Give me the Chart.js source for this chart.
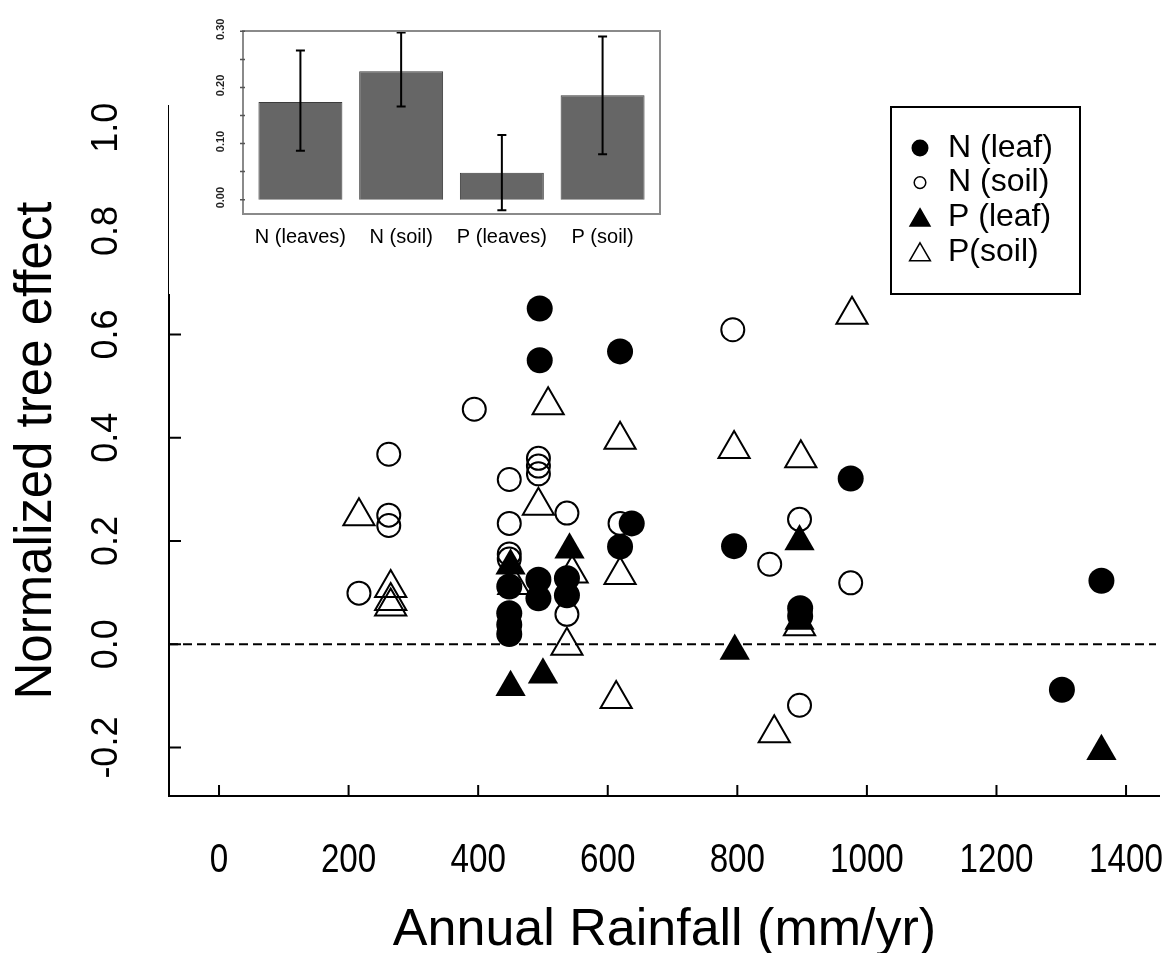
<!DOCTYPE html>
<html>
<head>
<meta charset="utf-8">
<title>Tree effect vs rainfall</title>
<script src="https://cdn.jsdelivr.net/npm/chart.js@4.4.1/dist/chart.umd.min.js"></script>
<style>
  html, body { margin: 0; padding: 0; background: #fff; }
  #wrap { position: relative; width: 1172px; height: 953px; }
  #main { position: absolute; left: 0; top: 0; }
  #inset { position: absolute; left: 169px; top: 0; }
</style>
</head>
<body>
<div id="wrap">
  <canvas id="main" width="1172" height="953"></canvas>
  <canvas id="inset" width="531" height="294"></canvas>
</div>
<script>
const FONT = '"Liberation Sans", Arial, Helvetica, sans-serif';

// rainfall (mm/yr) and normalized tree effect per nutrient / compartment
const nLeafRain   = [495, 495, 619, 637, 619, 448, 448, 448, 448, 493, 493, 537, 537, 795, 897, 897, 975, 1301, 1362];
const nLeafEffect = [0.650, 0.550, 0.567, 0.234, 0.189, 0.112, 0.060, 0.038, 0.020, 0.125, 0.089, 0.128, 0.095, 0.190, 0.070, 0.055, 0.321, -0.088, 0.123];

const nSoilRain   = [216, 262, 262, 262, 394, 448, 448, 448, 448, 493, 493, 493, 537, 537, 619, 793, 850, 896, 896, 975];
const nSoilEffect = [0.099, 0.368, 0.250, 0.230, 0.455, 0.319, 0.234, 0.175, 0.165, 0.360, 0.345, 0.330, 0.254, 0.058, 0.234, 0.609, 0.155, 0.242, -0.118, 0.119];

const pLeafRain   = [450, 450, 500, 541, 796, 896, 896, 1362];
const pLeafEffect = [0.152, -0.083, -0.059, 0.183, -0.013, 0.199, 0.045, -0.207];

const pSoilRain   = [216, 265, 265, 265, 455, 493, 508, 545, 537, 619, 619, 613, 795, 857, 898, 896, 977];
const pSoilEffect = [0.248, 0.109, 0.084, 0.073, 0.115, 0.268, 0.463, 0.137, -0.003, 0.396, 0.134, -0.106, 0.378, -0.172, 0.360, 0.035, 0.638];

const xTicks = [0, 200, 400, 600, 800, 1000, 1200, 1400];
const yTicks = [-0.2, 0, 0.2, 0.4, 0.6, 0.8, 1.0];
const yTickLabels = ['-0.2', '0.0', '0.2', '0.4', '0.6', '0.8', '1.0'];

// inset: mean effect per group with error bars
const insetLabels = ['N (leaves)', 'N (soil)', 'P (leaves)', 'P (soil)'];
const insetMeans  = [0.174, 0.229, 0.048, 0.186];
const insetLow    = [0.087, 0.166, -0.019, 0.081];
const insetHigh   = [0.266, 0.298, 0.115, 0.291];
const insetTicks  = [0, 0.05, 0.1, 0.15, 0.2, 0.25, 0.3];
const insetTickLabels = [[0, '0.00'], [0.1, '0.10'], [0.2, '0.20'], [0.3, '0.30']];

const pts = (xs, ys) => xs.map((x, i) => ({ x, y: ys[i] }));

function drawText(ctx, str, x, y, font, rot, sx) {
  ctx.save();
  ctx.translate(x, y);
  if (rot) ctx.rotate(rot);
  if (sx) ctx.scale(sx, 1);
  ctx.font = font;
  ctx.fillStyle = '#000';
  ctx.textAlign = 'center';
  ctx.textBaseline = 'alphabetic';
  ctx.fillText(str, 0, 0);
  ctx.restore();
}

// axes drawn R-style: L-shaped frame, inward ticks, vertical y labels
const axesPlugin = {
  id: 'rAxes',
  beforeDraw(chart) {
    const ctx = chart.ctx;
    ctx.save();
    ctx.fillStyle = '#fff';
    ctx.fillRect(0, 0, chart.width, chart.height);
    ctx.restore();
  },
  beforeDatasetsDraw(chart) {
    const { ctx, chartArea: a, scales: { x, y } } = chart;
    ctx.save();
    ctx.strokeStyle = '#000';
    ctx.lineWidth = 2;
    ctx.beginPath();
    ctx.moveTo(a.left, a.top);
    ctx.lineTo(a.left, a.bottom);
    ctx.lineTo(a.right, a.bottom);
    ctx.stroke();

    ctx.beginPath();
    yTicks.forEach((v) => {
      const py = y.getPixelForValue(v);
      ctx.moveTo(a.left, py);
      ctx.lineTo(a.left + 12, py);
    });
    xTicks.forEach((v) => {
      const px = x.getPixelForValue(v);
      ctx.moveTo(px, a.bottom);
      ctx.lineTo(px, a.bottom - 11);
    });
    ctx.stroke();

    // reference line at zero
    const y0 = y.getPixelForValue(0);
    ctx.setLineDash([9, 5]);
    ctx.beginPath();
    ctx.moveTo(a.left, y0);
    ctx.lineTo(a.right - 4, y0);
    ctx.stroke();
    ctx.restore();

    yTicks.forEach((v, i) => {
      drawText(ctx, yTickLabels[i], 117, y.getPixelForValue(v), '36px ' + FONT, -Math.PI / 2);
    });
    xTicks.forEach((v) => {
      drawText(ctx, String(v), x.getPixelForValue(v), 872, '40px ' + FONT, 0, 0.83);
    });
    drawText(ctx, 'Annual Rainfall (mm/yr)', (a.left + a.right) / 2, 945, '52px ' + FONT);
    drawText(ctx, 'Normalized tree effect', 51, (a.top + a.bottom) / 2, '51px ' + FONT, -Math.PI / 2);
  },
};

const legendPlugin = {
  id: 'boxLegend',
  afterDraw(chart) {
    const ctx = chart.ctx;
    const box = { l: 891, t: 107, r: 1080, b: 294 };
    ctx.save();
    ctx.strokeStyle = '#000';
    ctx.lineWidth = 2;
    ctx.strokeRect(box.l, box.t, box.r - box.l, box.b - box.t);
    const sizes = [7.5, 5.8, 11.5, 12];
    chart.data.datasets.forEach((ds, i) => {
      const cy = 148 + i * 34.6;
      ctx.fillStyle = ds.pointBackgroundColor;
      ctx.strokeStyle = '#000';
      ctx.lineWidth = ds.pointBorderWidth ? 1.5 : 0;
      Chart.helpers.drawPoint(ctx, {
        pointStyle: ds.pointStyle, radius: sizes[i], rotation: 0, borderWidth: ctx.lineWidth,
      }, 920, ds.pointStyle === 'triangle' ? cy + 3 : cy);
      ctx.font = '32px ' + FONT;
      ctx.fillStyle = '#000';
      ctx.textAlign = 'left';
      ctx.textBaseline = 'middle';
      ctx.fillText(ds.label, 948, cy);
    });
    ctx.restore();
  },
};

new Chart(document.getElementById('main'), {
  type: 'scatter',
  data: {
    datasets: [
      {
        label: 'N (leaf)', data: pts(nLeafRain, nLeafEffect), order: 0,
        pointStyle: 'circle', pointRadius: 13, pointBackgroundColor: '#000',
        pointBorderColor: '#000', pointBorderWidth: 0,
      },
      {
        label: 'N (soil)', data: pts(nSoilRain, nSoilEffect), order: 2,
        pointStyle: 'circle', pointRadius: 11.5, pointBackgroundColor: 'rgba(0,0,0,0)',
        pointBorderColor: '#000', pointBorderWidth: 2,
      },
      {
        label: 'P (leaf)', data: pts(pLeafRain, pLeafEffect), order: 1,
        pointStyle: 'triangle', pointRadius: 17.5, pointBackgroundColor: '#000',
        pointBorderColor: '#000', pointBorderWidth: 0,
      },
      {
        label: 'P(soil)', data: pts(pSoilRain, pSoilEffect), order: 3,
        pointStyle: 'triangle', pointRadius: 18, pointBackgroundColor: 'rgba(0,0,0,0)',
        pointBorderColor: '#000', pointBorderWidth: 2,
      },
    ],
  },
  options: {
    responsive: false,
    animation: false,
    devicePixelRatio: 1,
    layout: { autoPadding: false, padding: { left: 169, top: 105, right: 12, bottom: 157 } },
    scales: {
      x: { type: 'linear', display: false, min: -77.2, max: 1452.4 },
      y: { type: 'linear', display: false, min: -0.2937, max: 1.0441 },
    },
    plugins: { legend: { display: false }, tooltip: { enabled: false } },
  },
  plugins: [axesPlugin, legendPlugin],
});

// inset bar chart (R barplot layout: width 1, space 0.2)
const insetPos = insetLabels.map((_, i) => 0.7 + i * 1.2);

const insetPlugin = {
  id: 'insetDecor',
  beforeDraw(chart) {
    const ctx = chart.ctx;
    ctx.save();
    ctx.fillStyle = '#fff';
    ctx.fillRect(0, 0, chart.width, chart.height);
    ctx.restore();
  },
  afterDatasetsDraw(chart) {
    const { ctx, chartArea: a, scales: { x, y } } = chart;
    ctx.save();
    // error bars
    ctx.strokeStyle = '#000';
    ctx.lineWidth = 2;
    ctx.beginPath();
    insetPos.forEach((p, i) => {
      const px = x.getPixelForValue(p);
      const lo = y.getPixelForValue(insetLow[i]);
      const hi = y.getPixelForValue(insetHigh[i]);
      ctx.moveTo(px, lo); ctx.lineTo(px, hi);
      ctx.moveTo(px - 4.5, lo); ctx.lineTo(px + 4.5, lo);
      ctx.moveTo(px - 4.5, hi); ctx.lineTo(px + 4.5, hi);
    });
    ctx.stroke();

    // frame and ticks
    ctx.strokeStyle = '#8a8a8a';
    ctx.lineWidth = 2;
    ctx.strokeRect(a.left, a.top, a.right - a.left, a.bottom - a.top);
    ctx.strokeStyle = '#555';
    ctx.lineWidth = 1.5;
    ctx.beginPath();
    insetTicks.forEach((v) => {
      const py = y.getPixelForValue(v);
      ctx.moveTo(a.left - 3, py);
      ctx.lineTo(a.left + 2, py);
    });
    ctx.stroke();
    ctx.restore();

    insetTickLabels.forEach(([v, s]) => {
      ctx.save();
      ctx.translate(55, y.getPixelForValue(v) - 2);
      ctx.rotate(-Math.PI / 2);
      ctx.font = 'bold 11px ' + FONT;
      ctx.fillStyle = '#222';
      ctx.textAlign = 'center';
      ctx.textBaseline = 'alphabetic';
      ctx.fillText(s, 0, 0);
      ctx.restore();
    });
    insetLabels.forEach((s, i) => {
      drawText(ctx, s, x.getPixelForValue(insetPos[i]), 243, '20px ' + FONT);
    });
  },
};

new Chart(document.getElementById('inset'), {
  type: 'bar',
  data: {
    datasets: [{
      data: pts(insetPos, insetMeans),
      backgroundColor: '#666666',
      borderColor: '#3c3c3c',
      borderWidth: 1,
      barPercentage: 1 / 1.2,
      categoryPercentage: 1,
    }],
  },
  options: {
    responsive: false,
    animation: false,
    devicePixelRatio: 1,
    layout: { autoPadding: false, padding: { left: 74, top: 31, right: 40, bottom: 80 } },
    scales: {
      x: {
        type: 'linear', display: false, offset: false, min: 0.016, max: 4.984,
        afterBuildTicks: (s) => { s.ticks = insetPos.map((v) => ({ value: v })); },
      },
      y: { type: 'linear', display: false, min: -0.0256, max: 0.3006 },
    },
    plugins: { legend: { display: false }, tooltip: { enabled: false } },
  },
  plugins: [insetPlugin],
});
</script>
</body>
</html>
